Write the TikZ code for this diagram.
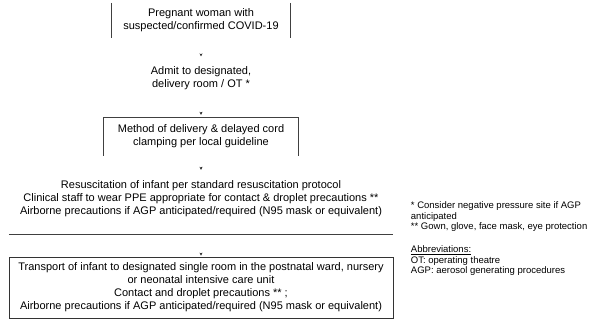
\documentclass[tikz,border=0pt]{standalone}
\usepackage{fontspec}
\setmainfont{Liberation Sans}
\usetikzlibrary{arrows.meta}

\tikzset{
  flowtext/.style={align=center, inner sep=0.75pt, font=\fontsize{11}{13}\selectfont},
  notetext/.style={anchor=north west, align=left, inner sep=0.75pt, font=\fontsize{9.5}{10.5}\selectfont},
  edge/.style={draw=black!75, line width=0.8pt},
  tip/.style={-{Stealth[length=3pt,width=3pt]}, line width=0.4pt, draw=black!80}
}

\begin{document}
\begin{tikzpicture}[x=1pt,y=1pt,yscale=-1]
\useasboundingbox (0,0) rectangle (602,335);

% Text Node
\node [flowtext, minimum width=178pt, minimum height=35pt] (pregnant) at (201,20.5) {Pregnant woman with\\suspected/confirmed COVID-19};
%Straight Lines
\draw [edge] (pregnant.north west) -- (pregnant.south west);
\draw [edge] (pregnant.north east) -- (pregnant.south east);

% Text Node
\node [flowtext] (admit) at (201,78) {Admit to designated,\\delivery room / OT *};

% Text Node
\node [flowtext, minimum width=194pt, minimum height=38pt] (method) at (201,136.5) {Method of delivery \& delayed cord\\clamping per local guideline};
%Straight Lines
\draw [edge] (method.south west) -- (method.north west) -- (method.north east) -- (method.south east);

% Text Node
\node [flowtext, minimum width=384pt, minimum height=70pt] (resus) at (201,199) {Resuscitation of infant per standard resuscitation protocol\\Clinical staff to wear PPE appropriate for contact \& droplet precautions **\\Airborne precautions if AGP anticipated/required (N95 mask or equivalent)};
%Straight Lines
\draw [edge] (resus.south west) -- (resus.south east);

% Text Node
\node [flowtext, draw=black!80, line width=0.8pt, minimum width=384pt, minimum height=61pt] (transport) at (201,287.5) {Transport of infant to designated single room in the postnatal ward, nursery\\or neonatal intensive care unit\\Contact and droplet precautions ** ;\\Airborne precautions if AGP anticipated/required (N95 mask or equivalent)};

%Arrow tips
\draw [tip, shorten <=15.5pt, shorten >=9pt] (pregnant.south) -- (admit.north);
\draw [tip, shorten <=21.5pt, shorten >=2.5pt] (admit.south) -- (method.north);
\draw [tip, shorten <=11pt, shorten >=-6pt] (method.south) -- (resus.north);
\draw [tip, shorten <=18.5pt, shorten >=1pt] (resus.south) -- (transport.north);

% Text Node
\node [notetext] (notes) at (410,201) {* Consider negative pressure site if AGP\\anticipated\\** Gown, glove, face mask, eye protection};
% Text Node
\node [notetext] (abbrev) at (410,245) {\underline{Abbreviations:}\\OT: operating theatre\\AGP: aerosol generating procedures};

\end{tikzpicture}
\end{document}
